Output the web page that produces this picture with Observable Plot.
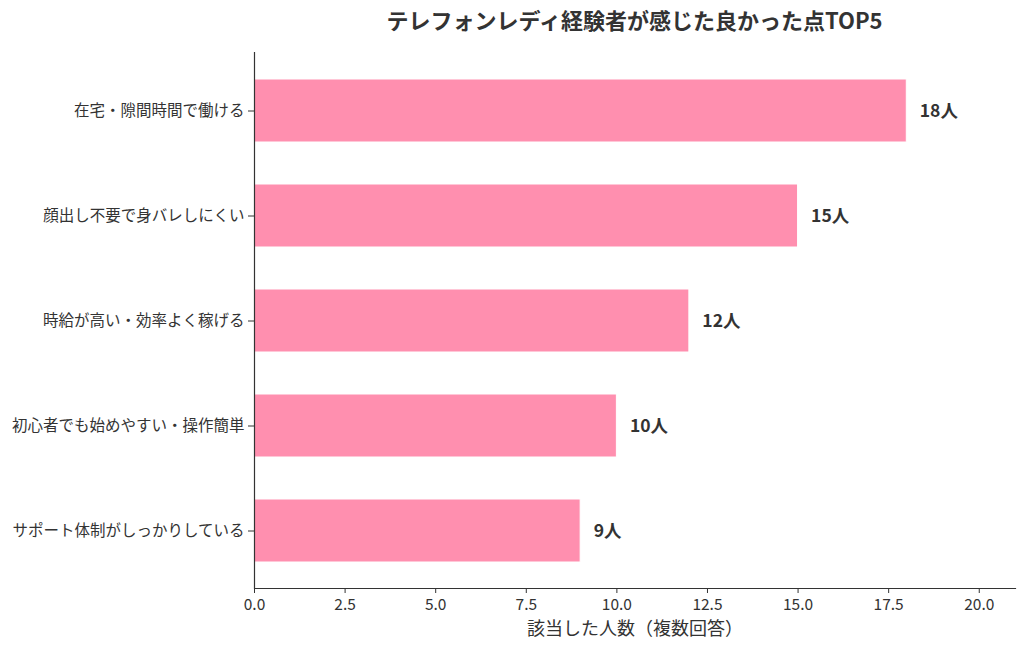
<!DOCTYPE html>
<html><head><meta charset="utf-8">
<script src="https://cdn.jsdelivr.net/npm/d3@7"></script>
<script src="https://cdn.jsdelivr.net/npm/@observablehq/plot@0.6"></script>
<style>
body{margin:0;background:#fff;font-family:"Noto Sans CJK JP","Noto Sans",sans-serif;}
#title{height:40px;line-height:38px;padding-left:254px;width:761px;text-align:center;font-size:22px;font-weight:bold;color:#333;}
</style></head>
<body>
<div id="title">テレフォンレディ経験者が感じた良かった点TOP5</div>
<div id="chart"></div>
<script>
const categories = ["在宅・隙間時間で働ける","顔出し不要で身バレしにくい","時給が高い・効率よく稼げる","初心者でも始めやすい・操作簡単","サポート体制がしっかりしている"];
const counts = [18, 15, 12, 10, 9];
const xTicks = [0, 2.5, 5, 7.5, 10, 12.5, 15, 17.5, 20];
const data = categories.map((c, i) => ({cat: c, n: counts[i]}));

const chart = Plot.plot({
  width: 1024, height: 607,
  marginLeft: 254, marginRight: 9, marginTop: 12, marginBottom: 59,
  style: {fontFamily: '"Noto Sans CJK JP","Noto Sans",sans-serif', fontSize: "15px", color: "#333"},
  x: {domain: [0, 21], ticks: xTicks, tickFormat: d => d.toFixed(1), label: null},
  y: {domain: categories, paddingInner: 0.4, paddingOuter: 0.234, label: null},
  marks: [
    Plot.barX(data, {x: "n", y: "cat", fill: "#FF8FAF", stroke: "#fff", strokeWidth: 1}),
    Plot.text(data, {x: "n", y: "cat", text: d => d.n + "人", dx: 13, textAnchor: "start", fontWeight: "bold", fontSize: 17.5, fill: "#333"}),
    Plot.axisY({tickSize: 6, tickPadding: 4, fontSize: 15.5, label: null, stroke: "#333"}),
    Plot.axisX({ticks: xTicks, tickFormat: d => d.toFixed(1), tickSize: 5, tickPadding: 5, fontSize: 15.5, label: null, stroke: "#333"}),
    Plot.frame({anchor: "bottom", stroke: "#333", strokeWidth: 1.2}),
    Plot.ruleX([0], {stroke: "#333", strokeWidth: 1.2}),
    Plot.text(["該当した人数（複数回答）"], {frameAnchor: "bottom", dy: 46, fontSize: 18, fill: "#333"})
  ]
});
document.getElementById("chart").appendChild(chart);
</script>
</body></html>
